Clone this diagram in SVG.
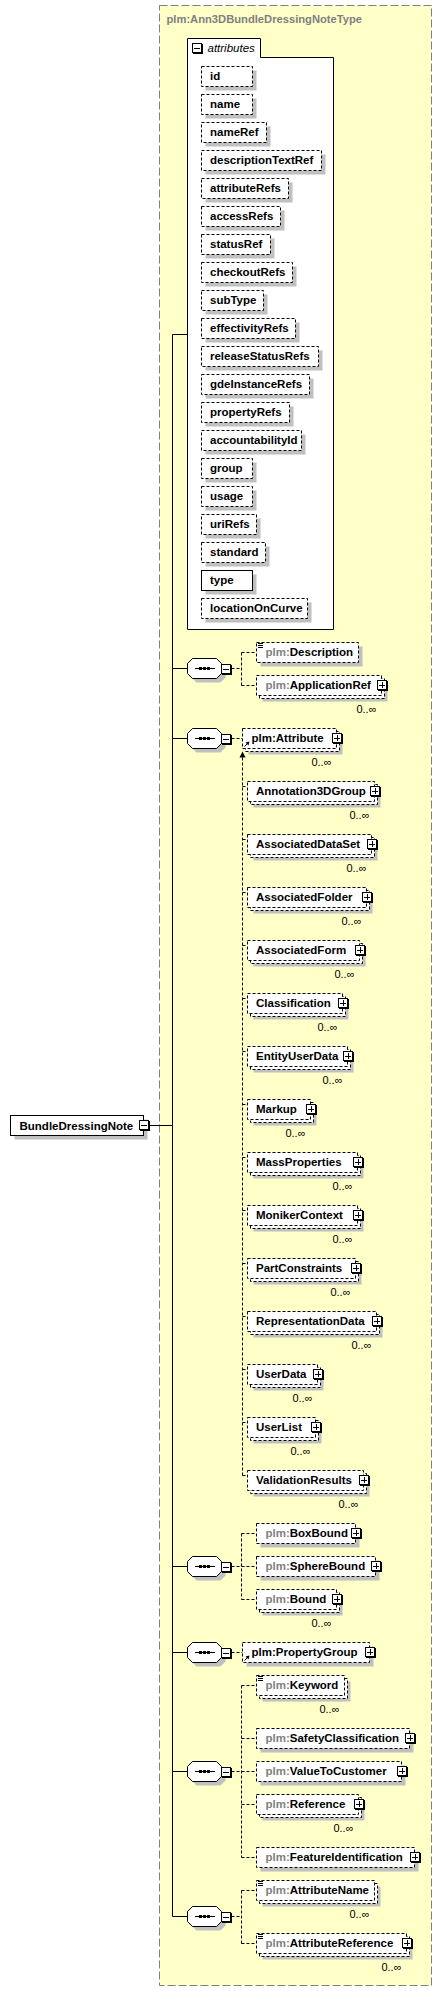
<svg xmlns="http://www.w3.org/2000/svg" xmlns:xlink="http://www.w3.org/1999/xlink" width="442" height="1991" viewBox="0 0 442 1991">
<style>
.tb{fill:#ffffc8;stroke:#808080;stroke-dasharray:8,3}
.sh{fill:#c0c0c0}
.bx{fill:#fff;stroke:#000;stroke-dasharray:3,2}
.bs{fill:#fff;stroke:#000}
.t{font-family:"Liberation Sans",Arial,sans-serif;font-size:11.5px;font-weight:bold;fill:#000}
.g{fill:#808080}
.ti{font-family:"Liberation Sans",Arial,sans-serif;font-size:11.2px;font-weight:bold;fill:#808080}
.it{font-family:"Liberation Sans",Arial,sans-serif;font-size:11.5px;font-style:italic;fill:#000}
.m{font-family:"Liberation Sans",Arial,sans-serif;font-size:11px;fill:#000;text-anchor:end}
.c{stroke:#000;fill:none}
.cd{stroke:#000;fill:none;stroke-dasharray:3,2}
</style>
<defs>
<g id="plus"><rect x="1" y="1" width="10" height="10" fill="#000"/><rect x="0.5" y="0.5" width="9" height="9" fill="#fff" stroke="#000"/><path d="M2,5.5H8M5.5,2V8" stroke="#000"/></g>
<g id="minus"><rect x="1" y="1" width="10" height="10" fill="#000"/><rect x="0.5" y="0.5" width="9" height="9" fill="#fff" stroke="#000"/><path d="M2,5.5H8" stroke="#000"/></g>
<g id="seq">
<polygon points="196.5,-5.5 220.5,-5.5 225.5,-0.5 225.5,9.5 220.5,14.5 196.5,14.5 191.5,9.5 191.5,-0.5" fill="#c0c0c0"/>
<polygon points="192.5,-9.5 216.5,-9.5 221.5,-4.5 221.5,5.5 216.5,10.5 192.5,10.5 187.5,5.5 187.5,-4.5" fill="#fff" stroke="#000"/>
<path d="M195,0.5H215" stroke="#000"/>
<rect x="199" y="-1" width="3" height="3" fill="#000"/><rect x="203" y="-1" width="3" height="3" fill="#000"/><rect x="207" y="-1" width="3" height="3" fill="#000"/>
<use xlink:href="#minus" href="#minus" x="221" y="-4"/>
</g>
<g id="doc"><path d="M2,1H7M2,3H7M2,5H7" stroke="#000"/></g>
<g id="ref"><path d="M2.5,18.5L6,15" stroke="#000"/><polygon points="7.5,13.5 3.5,14.5 6.5,17.5" fill="#000"/></g>
</defs>

<g id="typeBox">
<rect class="tb" x="159.5" y="5.5" width="272" height="1980"/>
<text class="ti" x="166.5" y="22.5">plm:Ann3DBundleDressingNoteType</text>
</g>

<g id="connectors">
<path class="c" d="M149.5,1125.5H172.5M172.5,334.5V1916.5M172.5,334.5H187.5M172.5,668.5H187.5M172.5,738.5H187.5M172.5,1566.5H187.5M172.5,1652.5H187.5M172.5,1771.5H187.5M172.5,1916.5H187.5"/>
<path class="cd" d="M231.5,668.5H241.5M241.5,652.5V685.5M241.5,652.5H256.5M241.5,685.5H256.5"/>
<path class="cd" d="M231.5,738.5H242.5"/>
<path class="cd" d="M242.5,757.5V1475.5M242.5,786.5H247.5M242.5,839.5H247.5M242.5,892.5H247.5M242.5,945.5H247.5M242.5,998.5H247.5M242.5,1051.5H247.5M242.5,1104.5H247.5M242.5,1157.5H247.5M242.5,1210.5H247.5M242.5,1263.5H247.5M242.5,1316.5H247.5M242.5,1369.5H247.5M242.5,1422.5H247.5M242.5,1475.5H247.5"/>
<polygon points="242.5,751.5 239.5,757.5 245.5,757.5" fill="#000"/>
<path class="cd" d="M231.5,1566.5H256.5M241.5,1533.5V1599.5M241.5,1533.5H256.5M241.5,1599.5H256.5"/>
<path class="cd" d="M231.5,1652.5H242.5"/>
<path class="cd" d="M231.5,1771.5H256.5M241.5,1685.5V1857.5M241.5,1685.5H256.5M241.5,1738.5H256.5M241.5,1804.5H256.5M241.5,1857.5H256.5"/>
<path class="cd" d="M231.5,1916.5H241.5M241.5,1890.5V1943.5M241.5,1890.5H256.5M241.5,1943.5H256.5"/>
</g>

<g id="BundleDressingNote">
<rect class="sh" x="14.5" y="1119.5" width="133" height="20"/>
<rect class="bs" x="10.5" y="1115.5" width="133" height="20"/>
<text class="t" x="19.5" y="1129.5">BundleDressingNote</text>
<use xlink:href="#minus" href="#minus" x="139" y="1120"/>
</g>

<g id="attributes">
<path d="M187.5,38.5H260.5V57.5H333.5V629.5H187.5Z" fill="#fff" stroke="#000"/>
<use xlink:href="#minus" href="#minus" x="192" y="43"/>
<text class="it" x="207.5" y="51.5">attributes</text>
</g>

<g id="attr-id"><rect class="sh" x="205.5" y="70.5" width="51" height="20"/><rect class="bx" x="201.5" y="66.5" width="51" height="20"/><text class="t" x="210" y="80">id</text></g>
<g id="attr-name"><rect class="sh" x="205.5" y="98.5" width="51" height="20"/><rect class="bx" x="201.5" y="94.5" width="51" height="20"/><text class="t" x="210" y="108">name</text></g>
<g id="attr-nameRef"><rect class="sh" x="205.5" y="126.5" width="65" height="20"/><rect class="bx" x="201.5" y="122.5" width="65" height="20"/><text class="t" x="210" y="136">nameRef</text></g>
<g id="attr-descriptionTextRef"><rect class="sh" x="205.5" y="154.5" width="120" height="20"/><rect class="bx" x="201.5" y="150.5" width="120" height="20"/><text class="t" x="210" y="164">descriptionTextRef</text></g>
<g id="attr-attributeRefs"><rect class="sh" x="205.5" y="182.5" width="87" height="20"/><rect class="bx" x="201.5" y="178.5" width="87" height="20"/><text class="t" x="210" y="192">attributeRefs</text></g>
<g id="attr-accessRefs"><rect class="sh" x="205.5" y="210.5" width="79" height="20"/><rect class="bx" x="201.5" y="206.5" width="79" height="20"/><text class="t" x="210" y="220">accessRefs</text></g>
<g id="attr-statusRef"><rect class="sh" x="205.5" y="238.5" width="69" height="20"/><rect class="bx" x="201.5" y="234.5" width="69" height="20"/><text class="t" x="210" y="248">statusRef</text></g>
<g id="attr-checkoutRefs"><rect class="sh" x="205.5" y="266.5" width="91" height="20"/><rect class="bx" x="201.5" y="262.5" width="91" height="20"/><text class="t" x="210" y="276">checkoutRefs</text></g>
<g id="attr-subType"><rect class="sh" x="205.5" y="294.5" width="62" height="20"/><rect class="bx" x="201.5" y="290.5" width="62" height="20"/><text class="t" x="210" y="304">subType</text></g>
<g id="attr-effectivityRefs"><rect class="sh" x="205.5" y="322.5" width="94" height="20"/><rect class="bx" x="201.5" y="318.5" width="94" height="20"/><text class="t" x="210" y="332">effectivityRefs</text></g>
<g id="attr-releaseStatusRefs"><rect class="sh" x="205.5" y="350.5" width="117" height="20"/><rect class="bx" x="201.5" y="346.5" width="117" height="20"/><text class="t" x="210" y="360">releaseStatusRefs</text></g>
<g id="attr-gdeInstanceRefs"><rect class="sh" x="205.5" y="378.5" width="108" height="20"/><rect class="bx" x="201.5" y="374.5" width="108" height="20"/><text class="t" x="210" y="388">gdeInstanceRefs</text></g>
<g id="attr-propertyRefs"><rect class="sh" x="205.5" y="406.5" width="88" height="20"/><rect class="bx" x="201.5" y="402.5" width="88" height="20"/><text class="t" x="210" y="416">propertyRefs</text></g>
<g id="attr-accountabilityId"><rect class="sh" x="205.5" y="434.5" width="100" height="20"/><rect class="bx" x="201.5" y="430.5" width="100" height="20"/><text class="t" x="210" y="444">accountabilityId</text></g>
<g id="attr-group"><rect class="sh" x="205.5" y="462.5" width="51" height="20"/><rect class="bx" x="201.5" y="458.5" width="51" height="20"/><text class="t" x="210" y="472">group</text></g>
<g id="attr-usage"><rect class="sh" x="205.5" y="490.5" width="51" height="20"/><rect class="bx" x="201.5" y="486.5" width="51" height="20"/><text class="t" x="210" y="500">usage</text></g>
<g id="attr-uriRefs"><rect class="sh" x="205.5" y="518.5" width="55" height="20"/><rect class="bx" x="201.5" y="514.5" width="55" height="20"/><text class="t" x="210" y="528">uriRefs</text></g>
<g id="attr-standard"><rect class="sh" x="205.5" y="546.5" width="64" height="20"/><rect class="bx" x="201.5" y="542.5" width="64" height="20"/><text class="t" x="210" y="556">standard</text></g>
<g id="attr-type"><rect class="sh" x="205.5" y="574.5" width="51" height="20"/><rect class="bs" x="201.5" y="570.5" width="51" height="20"/><text class="t" x="210" y="584">type</text></g>
<g id="attr-locationOnCurve"><rect class="sh" x="205.5" y="602.5" width="106" height="20"/><rect class="bx" x="201.5" y="598.5" width="106" height="20"/><text class="t" x="210" y="612">locationOnCurve</text></g>

<g id="seq1"><use xlink:href="#seq" href="#seq" y="668"/></g>
<g id="seq2"><use xlink:href="#seq" href="#seq" y="738"/></g>
<g id="seq3"><use xlink:href="#seq" href="#seq" y="1566"/></g>
<g id="seq4"><use xlink:href="#seq" href="#seq" y="1652"/></g>
<g id="seq5"><use xlink:href="#seq" href="#seq" y="1771"/></g>
<g id="seq6"><use xlink:href="#seq" href="#seq" y="1916"/></g>

<g id="Description"><rect class="sh" x="260.5" y="646.5" width="102" height="20"/><rect class="bx" x="256.5" y="642.5" width="102" height="20"/><use xlink:href="#doc" href="#doc" x="256" y="642.5"/><text class="t" x="265.5" y="656"><tspan class="g">plm:</tspan>Description</text></g>
<g id="ApplicationRef"><rect class="sh" x="262.5" y="681.5" width="125" height="20"/><rect class="bx" x="259.5" y="678.5" width="125" height="20"/><rect class="bx" x="256.5" y="675.5" width="125" height="20"/><text class="t" x="265.5" y="689"><tspan class="g">plm:</tspan>ApplicationRef</text><use xlink:href="#plus" href="#plus" x="377" y="680"/><text class="m" x="376.5" y="712.5">0..∞</text></g>

<g id="Attribute"><rect class="sh" x="248.5" y="734.5" width="94" height="20"/><rect class="bx" x="245.5" y="731.5" width="94" height="20"/><rect class="bx" x="242.5" y="728.5" width="94" height="20"/><use xlink:href="#ref" href="#ref" x="242" y="728"/><text class="t" x="251.5" y="742">plm:Attribute</text><use xlink:href="#plus" href="#plus" x="332" y="733"/><text class="m" x="331.5" y="765.5">0..∞</text></g>

<g id="Annotation3DGroup"><rect class="sh" x="253.5" y="787.5" width="127" height="20"/><rect class="bx" x="250.5" y="784.5" width="127" height="20"/><rect class="bx" x="247.5" y="781.5" width="127" height="20"/><text class="t" x="256" y="795">Annotation3DGroup</text><use xlink:href="#plus" href="#plus" x="370" y="786"/><text class="m" x="369.5" y="818.5">0..∞</text></g>
<g id="AssociatedDataSet"><rect class="sh" x="253.5" y="840.5" width="124" height="20"/><rect class="bx" x="250.5" y="837.5" width="124" height="20"/><rect class="bx" x="247.5" y="834.5" width="124" height="20"/><text class="t" x="256" y="848">AssociatedDataSet</text><use xlink:href="#plus" href="#plus" x="367" y="839"/><text class="m" x="366.5" y="871.5">0..∞</text></g>
<g id="AssociatedFolder"><rect class="sh" x="253.5" y="893.5" width="119" height="20"/><rect class="bx" x="250.5" y="890.5" width="119" height="20"/><rect class="bx" x="247.5" y="887.5" width="119" height="20"/><text class="t" x="256" y="901">AssociatedFolder</text><use xlink:href="#plus" href="#plus" x="362" y="892"/><text class="m" x="361.5" y="924.5">0..∞</text></g>
<g id="AssociatedForm"><rect class="sh" x="253.5" y="946.5" width="112" height="20"/><rect class="bx" x="250.5" y="943.5" width="112" height="20"/><rect class="bx" x="247.5" y="940.5" width="112" height="20"/><text class="t" x="256" y="954">AssociatedForm</text><use xlink:href="#plus" href="#plus" x="355" y="945"/><text class="m" x="354.5" y="977.5">0..∞</text></g>
<g id="Classification"><rect class="sh" x="253.5" y="999.5" width="95" height="20"/><rect class="bx" x="250.5" y="996.5" width="95" height="20"/><rect class="bx" x="247.5" y="993.5" width="95" height="20"/><text class="t" x="256" y="1007">Classification</text><use xlink:href="#plus" href="#plus" x="338" y="998"/><text class="m" x="337.5" y="1030.5">0..∞</text></g>
<g id="EntityUserData"><rect class="sh" x="253.5" y="1052.5" width="100" height="20"/><rect class="bx" x="250.5" y="1049.5" width="100" height="20"/><rect class="bx" x="247.5" y="1046.5" width="100" height="20"/><text class="t" x="256" y="1060">EntityUserData</text><use xlink:href="#plus" href="#plus" x="343" y="1051"/><text class="m" x="342.5" y="1083.5">0..∞</text></g>
<g id="Markup"><rect class="sh" x="253.5" y="1105.5" width="63" height="20"/><rect class="bx" x="250.5" y="1102.5" width="63" height="20"/><rect class="bx" x="247.5" y="1099.5" width="63" height="20"/><text class="t" x="256" y="1113">Markup</text><use xlink:href="#plus" href="#plus" x="306" y="1104"/><text class="m" x="305.5" y="1136.5">0..∞</text></g>
<g id="MassProperties"><rect class="sh" x="253.5" y="1158.5" width="110" height="20"/><rect class="bx" x="250.5" y="1155.5" width="110" height="20"/><rect class="bx" x="247.5" y="1152.5" width="110" height="20"/><text class="t" x="256" y="1166">MassProperties</text><use xlink:href="#plus" href="#plus" x="353" y="1157"/><text class="m" x="352.5" y="1189.5">0..∞</text></g>
<g id="MonikerContext"><rect class="sh" x="253.5" y="1211.5" width="110" height="20"/><rect class="bx" x="250.5" y="1208.5" width="110" height="20"/><rect class="bx" x="247.5" y="1205.5" width="110" height="20"/><text class="t" x="256" y="1219">MonikerContext</text><use xlink:href="#plus" href="#plus" x="353" y="1210"/><text class="m" x="352.5" y="1242.5">0..∞</text></g>
<g id="PartConstraints"><rect class="sh" x="253.5" y="1264.5" width="108" height="20"/><rect class="bx" x="250.5" y="1261.5" width="108" height="20"/><rect class="bx" x="247.5" y="1258.5" width="108" height="20"/><text class="t" x="256" y="1272">PartConstraints</text><use xlink:href="#plus" href="#plus" x="351" y="1263"/><text class="m" x="350.5" y="1295.5">0..∞</text></g>
<g id="RepresentationData"><rect class="sh" x="253.5" y="1317.5" width="129" height="20"/><rect class="bx" x="250.5" y="1314.5" width="129" height="20"/><rect class="bx" x="247.5" y="1311.5" width="129" height="20"/><text class="t" x="256" y="1325">RepresentationData</text><use xlink:href="#plus" href="#plus" x="372" y="1316"/><text class="m" x="371.5" y="1348.5">0..∞</text></g>
<g id="UserData"><rect class="sh" x="253.5" y="1370.5" width="70" height="20"/><rect class="bx" x="250.5" y="1367.5" width="70" height="20"/><rect class="bx" x="247.5" y="1364.5" width="70" height="20"/><text class="t" x="256" y="1378">UserData</text><use xlink:href="#plus" href="#plus" x="313" y="1369"/><text class="m" x="312.5" y="1401.5">0..∞</text></g>
<g id="UserList"><rect class="sh" x="253.5" y="1423.5" width="68" height="20"/><rect class="bx" x="250.5" y="1420.5" width="68" height="20"/><rect class="bx" x="247.5" y="1417.5" width="68" height="20"/><text class="t" x="256" y="1431">UserList</text><use xlink:href="#plus" href="#plus" x="311" y="1422"/><text class="m" x="310.5" y="1454.5">0..∞</text></g>
<g id="ValidationResults"><rect class="sh" x="253.5" y="1476.5" width="116" height="20"/><rect class="bx" x="250.5" y="1473.5" width="116" height="20"/><rect class="bx" x="247.5" y="1470.5" width="116" height="20"/><text class="t" x="256" y="1484">ValidationResults</text><use xlink:href="#plus" href="#plus" x="359" y="1475"/><text class="m" x="358.5" y="1507.5">0..∞</text></g>

<g id="BoxBound"><rect class="sh" x="260.5" y="1527.5" width="99" height="20"/><rect class="bx" x="256.5" y="1523.5" width="99" height="20"/><text class="t" x="265.5" y="1537"><tspan class="g">plm:</tspan>BoxBound</text><use xlink:href="#plus" href="#plus" x="351" y="1528"/></g>
<g id="SphereBound"><rect class="sh" x="260.5" y="1560.5" width="119" height="20"/><rect class="bx" x="256.5" y="1556.5" width="119" height="20"/><text class="t" x="265.5" y="1570"><tspan class="g">plm:</tspan>SphereBound</text><use xlink:href="#plus" href="#plus" x="371" y="1561"/></g>
<g id="Bound"><rect class="sh" x="262.5" y="1595.5" width="80" height="20"/><rect class="bx" x="259.5" y="1592.5" width="80" height="20"/><rect class="bx" x="256.5" y="1589.5" width="80" height="20"/><text class="t" x="265.5" y="1603"><tspan class="g">plm:</tspan>Bound</text><use xlink:href="#plus" href="#plus" x="332" y="1594"/><text class="m" x="331.5" y="1626.5">0..∞</text></g>

<g id="PropertyGroup"><rect class="sh" x="246.5" y="1646.5" width="127" height="20"/><rect class="bx" x="242.5" y="1642.5" width="127" height="20"/><use xlink:href="#ref" href="#ref" x="242" y="1642"/><text class="t" x="251.5" y="1656">plm:PropertyGroup</text><use xlink:href="#plus" href="#plus" x="365" y="1647"/></g>

<g id="Keyword"><rect class="sh" x="262.5" y="1681.5" width="88" height="20"/><rect class="bx" x="259.5" y="1678.5" width="88" height="20"/><rect class="bx" x="256.5" y="1675.5" width="88" height="20"/><use xlink:href="#doc" href="#doc" x="256" y="1675.5"/><text class="t" x="265.5" y="1689"><tspan class="g">plm:</tspan>Keyword</text><text class="m" x="339.5" y="1712.5">0..∞</text></g>
<g id="SafetyClassification"><rect class="sh" x="260.5" y="1732.5" width="153" height="20"/><rect class="bx" x="256.5" y="1728.5" width="153" height="20"/><text class="t" x="265.5" y="1742"><tspan class="g">plm:</tspan>SafetyClassification</text><use xlink:href="#plus" href="#plus" x="405" y="1733"/></g>
<g id="ValueToCustomer"><rect class="sh" x="260.5" y="1765.5" width="145" height="20"/><rect class="bx" x="256.5" y="1761.5" width="145" height="20"/><text class="t" x="265.5" y="1775"><tspan class="g">plm:</tspan>ValueToCustomer</text><use xlink:href="#plus" href="#plus" x="397" y="1766"/></g>
<g id="Reference"><rect class="sh" x="262.5" y="1800.5" width="102" height="20"/><rect class="bx" x="259.5" y="1797.5" width="102" height="20"/><rect class="bx" x="256.5" y="1794.5" width="102" height="20"/><text class="t" x="265.5" y="1808"><tspan class="g">plm:</tspan>Reference</text><use xlink:href="#plus" href="#plus" x="354" y="1799"/><text class="m" x="353.5" y="1831.5">0..∞</text></g>
<g id="FeatureIdentification"><rect class="sh" x="260.5" y="1851.5" width="158" height="20"/><rect class="bx" x="256.5" y="1847.5" width="158" height="20"/><text class="t" x="265.5" y="1861"><tspan class="g">plm:</tspan>FeatureIdentification</text><use xlink:href="#plus" href="#plus" x="410" y="1852"/></g>

<g id="AttributeName"><rect class="sh" x="262.5" y="1886.5" width="118" height="20"/><rect class="bx" x="259.5" y="1883.5" width="118" height="20"/><rect class="bx" x="256.5" y="1880.5" width="118" height="20"/><use xlink:href="#doc" href="#doc" x="256" y="1880.5"/><text class="t" x="265.5" y="1894"><tspan class="g">plm:</tspan>AttributeName</text><text class="m" x="369.5" y="1917.5">0..∞</text></g>
<g id="AttributeReference"><rect class="sh" x="262.5" y="1939.5" width="150" height="20"/><rect class="bx" x="259.5" y="1936.5" width="150" height="20"/><rect class="bx" x="256.5" y="1933.5" width="150" height="20"/><use xlink:href="#doc" href="#doc" x="256" y="1933.5"/><text class="t" x="265.5" y="1947"><tspan class="g">plm:</tspan>AttributeReference</text><use xlink:href="#plus" href="#plus" x="402" y="1938"/><text class="m" x="401.5" y="1970.5">0..∞</text></g>
</svg>
